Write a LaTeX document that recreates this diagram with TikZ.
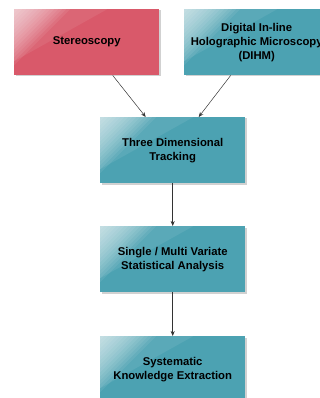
\documentclass[tikz,border=0pt]{standalone}
\usepackage{fontspec}
\setmainfont{Liberation Sans}
\usetikzlibrary{shadows,arrows.meta}

\def\boxw{145}
\def\boxh{66}
\definecolor{stereored}{RGB}{217,89,106}
\definecolor{flowteal}{RGB}{76,162,178}

\tikzset{
  flowbox/.style={fill=#1, minimum width=\boxw pt, minimum height=\boxh pt, inner sep=0pt,
    anchor=north west, align=center, font=\bfseries\fontsize{11.3}{14}\selectfont,
    drop shadow={opacity=0.3, shadow xshift=1.3pt, shadow yshift=-1.3pt, fill=black!60},
    path picture={
      \foreach \k in {1,...,14}
        \fill[white, opacity=0.075] (path picture bounding box.north west) -- ++(\k*4pt,0) -- ++(-\k*4pt,-\k*4pt) -- cycle;
      \fill[white, opacity=0.08] (path picture bounding box.north west) -- ++(93pt,0) -- ++(-93pt,-52pt) -- cycle;
    }},
  flowarrow/.style={-{Stealth[length=5pt,width=4pt]}, line width=0.5pt, black!80}
}

\begin{document}
\begin{tikzpicture}[x=1pt,y=-1pt]
  \useasboundingbox (0,0) rectangle (320,398);
  % top row
  \node[flowbox=stereored] (stereo) at (14,9) {Stereoscopy};
  \node[flowbox=flowteal] (dihm) at (184,9) {Digital In-line\\Holographic Microscopy\\(DIHM)};
  % main chain
  \node[flowbox=flowteal] (track) at (100,117) {Three Dimensional\\Tracking};
  \node[flowbox=flowteal] (stats) at (100,226) {Single / Multi Variate\\Statistical Analysis};
  \node[flowbox=flowteal] (knowledge) at (100,336) {Systematic\\Knowledge Extraction};
  \draw[flowarrow] ([xshift=26pt]stereo.south) -- ([xshift=-27pt]track.north);
  \draw[flowarrow] ([xshift=-26pt]dihm.south) -- ([xshift=26pt]track.north);
  \draw[flowarrow] (track) -- (stats);
  \draw[flowarrow] (stats) -- (knowledge);
\end{tikzpicture}
\end{document}
